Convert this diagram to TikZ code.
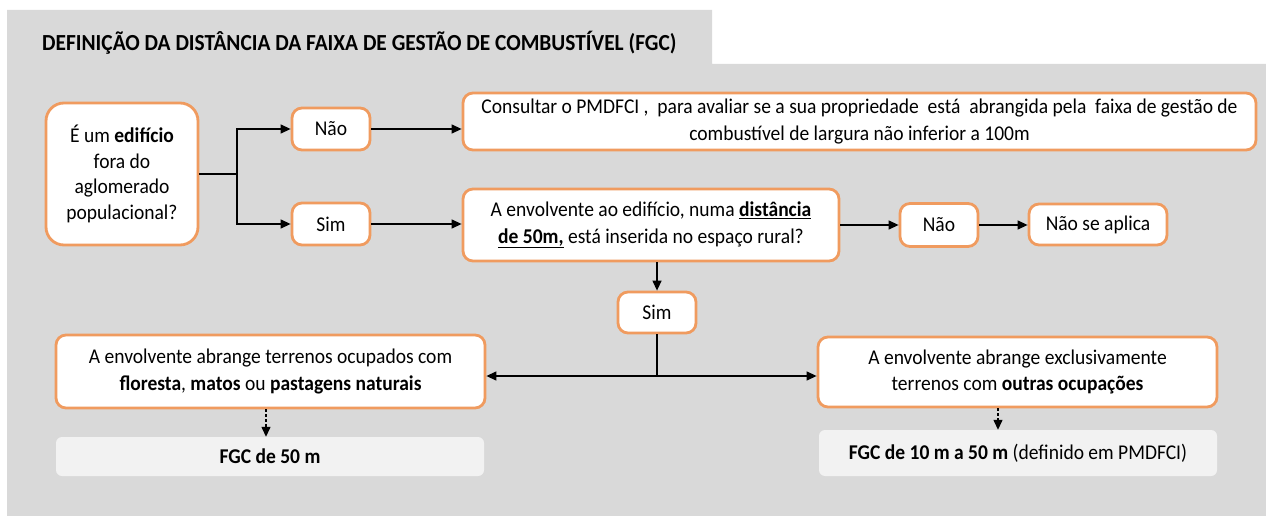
\documentclass[tikz,border=0pt]{standalone}
\usepackage{fontspec}
\setmainfont{Carlito}[FakeStretch=0.93]
\usetikzlibrary{arrows.meta,calc}
\definecolor{bggray}{RGB}{217,217,217}
\definecolor{borange}{RGB}{240,155,95}
\definecolor{lightbox}{RGB}{242,242,242}
\tikzset{
  box/.style={draw=borange, line width=2.8pt, fill=white, rounded corners=10pt, align=center, inner sep=0pt, font=\fontsize{21}{25.5}\selectfont},
  bigbox/.style={box, rounded corners=18pt},
  resbox/.style={fill=lightbox, rounded corners=6pt, align=center, inner sep=0pt, font=\fontsize{21}{25.5}\selectfont},
  conn/.style={line width=1.3pt, black},
  arr/.style={conn, -{Triangle[length=10pt,width=9pt]}},
  darr/.style={arr, dash pattern=on 3pt off 2pt},
}
\begin{document}
\begin{tikzpicture}[x=1pt,y=-1pt]
\useasboundingbox (0,0) rectangle (1266,516);
\fill[white] (0,0) rectangle (1266,516);
\fill[bggray] (7,10) -- (712,10) -- (712,64) -- (1266,64) -- (1266,516) -- (7,516) -- cycle;
\node[anchor=base west, font=\fontsize{23}{27}\selectfont\bfseries, inner sep=0pt] (title) at (42,51) {DEFINIÇÃO DA DISTÂNCIA DA FAIXA DE GESTÃO DE COMBUSTÍVEL (FGC)};

\node[bigbox, minimum width=152pt, minimum height=142pt] (q1) at (122,174) {É um \textbf{edifício}\\fora do\\aglomerado\\populacional?};
\node[box, minimum width=78pt, minimum height=42pt] (no1) at (331,129) {Não};
\node[box, minimum width=78pt, minimum height=42pt] (sim1) at (331,224) {Sim};
\node[box, minimum width=793pt, minimum height=57pt, font=\fontsize{21}{27.5}\selectfont] (cons) at (859.5,121.5) {Consultar o PMDFCI ,\ \ para avaliar se a sua propriedade\ \ está\ \ abrangida pela\ \ faixa de gestão de\\combustível de largura não inferior a 100m};
\node[box, minimum width=376pt, minimum height=72pt, font=\fontsize{21}{26.5}\selectfont] (q2) at (651,225) {A envolvente ao edifício, numa \underline{\textbf{distância}}\\\underline{\textbf{de 50m,}} está inserida no espaço rural?};
\node[box, minimum width=78pt, minimum height=43pt] (no2) at (939,225) {Não};
\node[box, minimum width=138pt, minimum height=41pt] (nsa) at (1098,224.5) {Não se aplica};
\node[box, minimum width=78pt, minimum height=41pt] (sim2) at (657,312.5) {Sim};
\node[box, minimum width=429pt, minimum height=73pt, font=\fontsize{21}{26.5}\selectfont] (la) at (270.5,371.5) {A envolvente abrange terrenos ocupados com\\\textbf{floresta}, \textbf{matos} ou \textbf{pastagens naturais}};
\node[box, minimum width=399pt, minimum height=70pt, font=\fontsize{21}{26.5}\selectfont] (ra) at (1017.5,372) {A envolvente abrange exclusivamente\\terrenos com \textbf{outras ocupações}};
\node[resbox, minimum width=428pt, minimum height=39pt] (f50) at (270,456.5) {\textbf{FGC de 50 m}};
\node[resbox, minimum width=398pt, minimum height=46pt] (f10) at (1018,453) {\textbf{FGC de 10 m a 50 m} (definido em PMDFCI)};

\coordinate (br) at (237,174);
\draw[conn] (q1.east |- br) -- (br);
\draw[arr] (br) |- (no1.west);
\draw[arr] (br) |- (sim1.west);
\draw[arr] (no1.east) -- (no1.east -| cons.west);
\draw[arr] (sim1.east) -- (sim1.east -| q2.west);
\draw[arr] (q2.east |- no2.west) -- (no2.west);
\draw[arr] (no2.east) -- (no2.east -| nsa.west);
\draw[arr] (sim2.north |- q2.south) -- (sim2.north);
\coordinate (j) at (657,376);
\draw[conn] (sim2.south) -- (j);
\draw[arr] (j) -- (j -| la.east);
\draw[arr] (j) -- (j -| ra.west);
\coordinate (d1) at (266,0);
\coordinate (d2) at (998,0);
\draw[darr] (d1 |- la.south) -- (d1 |- f50.north);
\draw[darr] (d2 |- ra.south) -- (d2 |- f10.north);
\end{tikzpicture}
\end{document}
